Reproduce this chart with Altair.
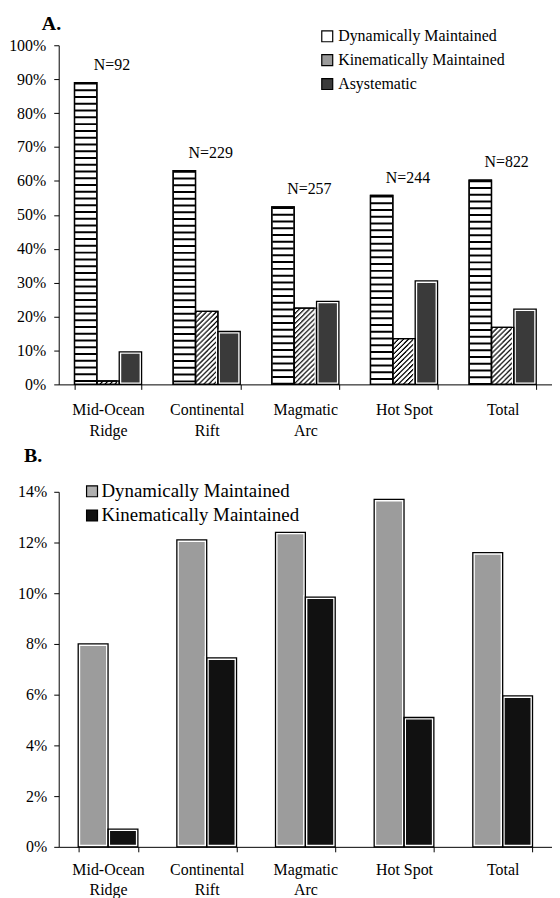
import altair as alt
import pandas as pd

FONT = "Liberation Serif"

categories = ["Mid-Ocean Ridge", "Continental Rift", "Magmatic Arc", "Hot Spot", "Total"]

series_a = ["Dynamically Maintained", "Kinematically Maintained", "Asystematic"]
a_dynamic = [89.0, 63.0, 52.3, 55.7, 60.2]
a_kinematic = [1.0, 21.5, 22.5, 13.5, 16.8]
a_asystematic = [9.6, 15.6, 24.5, 30.5, 22.2]
a_counts = ["N=92", "N=229", "N=257", "N=244", "N=822"]
a_ticks = [0, 10, 20, 30, 40, 50, 60, 70, 80, 90, 100]

series_b = ["Dynamically Maintained", "Kinematically Maintained"]
b_dynamic = [8.0, 12.1, 12.4, 13.7, 11.6]
b_kinematic = [0.7, 7.45, 9.85, 5.1, 5.95]
b_ticks = [0, 2, 4, 6, 8, 10, 12, 14]

panel_labels = ["A.", "B."]

df_a = pd.DataFrame(
    [{"category": c, "series": s, "value": v}
     for s, vals in zip(series_a, [a_dynamic, a_kinematic, a_asystematic])
     for c, v in zip(categories, vals)]
)
df_n = pd.DataFrame({"category": categories, "label": a_counts, "top": a_dynamic})
df_b = pd.DataFrame(
    [{"category": c, "series": s, "value": v}
     for s, vals in zip(series_b, [b_dynamic, b_kinematic])
     for c, v in zip(categories, vals)]
)

LABEL_EXPR = ("!isValid(datum.value) ? '' : "
              "((datum.value == 'Hot Spot' || datum.value == 'Total') ? datum.value : split(datum.value, ' '))")


def x_enc(pad, bp=None, label_pad=12, line_h=21):
    kw = {}
    if bp is not None:
        kw["bandPosition"] = bp
    return alt.X(
        "category:N", sort=categories, title=None,
        scale=alt.Scale(domain=categories, paddingInner=pad, paddingOuter=pad / 2),
        axis=alt.Axis(labelExpr=LABEL_EXPR, labelAngle=0, tickBand="extent", tickSize=5,
                      labelPadding=label_pad, labelFontSize=16, labelLineHeight=line_h,
                      labelFont=FONT, labelColor="black", domainColor="black",
                      tickColor="black", grid=False, zindex=1),
        **kw,
    )


def y_enc(field, domain, ticks, fs, lpad, ext):
    return alt.Y(
        f"{field}:Q", title=None,
        scale=alt.Scale(domain=domain, nice=False, zero=True),
        axis=alt.Axis(values=ticks, labelExpr="datum.value + '%'", tickSize=5,
                      labelPadding=lpad, labelFontSize=fs, labelFont=FONT,
                      labelColor="black", domainColor="black", tickColor="black",
                      grid=False, minExtent=ext, maxExtent=ext, zindex=1),
    )


# ---------------- Panel A ----------------
PA = 0.32
ya = lambda f="value": y_enc(f, [0, 100], a_ticks, 16, 8, 51)
xa = lambda bp=None: x_enc(PA, bp=bp, label_pad=12, line_h=21)
xoa = alt.XOffset("series:N", sort=series_a, scale=alt.Scale(domain=series_a, paddingInner=0, paddingOuter=0))

base_a = alt.Chart(df_a)

legend_a = base_a.mark_bar(opacity=0, stroke="black").encode(
    x=xa(), xOffset=xoa, y=ya(),
    color=alt.Color("series:N", sort=series_a,
                    scale=alt.Scale(domain=series_a, range=["white", "#9a9a9a", "#3a3a3a"]),
                    legend=alt.Legend(title=None, orient="none", legendX=262, legendY=-17,
                                      direction="vertical", symbolType="square", symbolSize=121,
                                      symbolStrokeColor="black", symbolStrokeWidth=1.2,
                                      symbolOpacity=1, labelFont=FONT, labelFontSize=16,
                                      labelColor="black", rowPadding=8, labelOffset=3,
                                      labelLimit=400, padding=0)),
)

bars_a = base_a.mark_bar(fill="white", stroke="black", strokeWidth=1.3).encode(
    x=xa(), xOffset=xoa, y=ya(), y2=alt.datum(0)
)

stripes_a = base_a.transform_filter(alt.datum.series == series_a[0]).mark_rule(
    strokeWidth=21.5, strokeDash=[2, 4.8], strokeCap="butt", color="black"
).encode(x=xa(1 / 6), y=ya(), y2=alt.datum(0))

hatch_layers = []
NCOL = 22
for j in range(NCOL):
    hatch_layers.append(
        base_a.transform_filter(alt.datum.series == series_a[1]).mark_rule(
            strokeWidth=1.2, strokeDash=[1.6, 3.4], strokeDashOffset=j * 1.02,
            strokeCap="butt", color="black"
        ).encode(x=xa((1 + (j + 0.5) / NCOL) / 3), y=ya(), y2=alt.datum(0))
    )

dark_a = base_a.transform_filter(alt.datum.series == series_a[2]).mark_bar(
    fill="#3a3a3a", stroke="white", strokeWidth=4
).encode(x=xa(), xOffset=xoa, y=ya(), y2=alt.datum(0))

outline_a = base_a.mark_bar(fillOpacity=0, stroke="black", strokeWidth=1.3).encode(
    x=xa(), xOffset=xoa, y=ya(), y2=alt.datum(0)
)

ntext = alt.Chart(df_n).mark_text(font=FONT, fontSize=16, dy=-18, dx=4, color="black").encode(
    x=xa(), y=ya("top"), text="label:N"
)

tag_a = alt.Chart(pd.DataFrame({"t": [panel_labels[0]]})).mark_text(
    font=FONT, fontSize=20, fontWeight="bold", align="left", baseline="alphabetic", color="black"
).encode(text="t:N", x=alt.value(-17), y=alt.value(-15))

panel_a = alt.layer(
    legend_a, bars_a, stripes_a, *hatch_layers, dark_a, outline_a, ntext, tag_a
).properties(width=496, height=341)

# ---------------- Panel B ----------------
PB = 0.395
yb = lambda f="value": y_enc(f, [0, 14], b_ticks, 16, 7, 47)
xb = lambda bp=None: x_enc(PB, bp=bp, label_pad=10, line_h=19.5)
xob = alt.XOffset("series:N", sort=series_b, scale=alt.Scale(domain=series_b, paddingInner=0, paddingOuter=0))

base_b = alt.Chart(df_b)

legend_b = base_b.mark_bar(opacity=0, stroke="black").encode(
    x=xb(), xOffset=xob, y=yb(),
    color=alt.Color("series:N", sort=series_b,
                    scale=alt.Scale(domain=series_b, range=["#b0b0b0", "#111111"]),
                    legend=alt.Legend(title=None, orient="none", legendX=24, legendY=-10,
                                      direction="vertical", symbolType="square", symbolSize=121,
                                      symbolStrokeColor="black", symbolStrokeWidth=1.2,
                                      symbolOpacity=1, labelFont=FONT, labelFontSize=19,
                                      labelColor="black", rowPadding=4.3, labelOffset=0,
                                      labelLimit=400, padding=0)),
)

bars_b = base_b.mark_bar(stroke="white", strokeWidth=4).encode(
    x=xb(), xOffset=xob, y=yb(), y2=alt.datum(0),
    fill=alt.when(alt.datum.series == series_b[1]).then(alt.value("#111111")).otherwise(alt.value("#9c9c9c")),
)

outline_b = base_b.mark_bar(fillOpacity=0, stroke="black", strokeWidth=1.3).encode(
    x=xb(), xOffset=xob, y=yb(), y2=alt.datum(0)
)

tag_b = alt.Chart(pd.DataFrame({"t": [panel_labels[1]]})).mark_text(
    font=FONT, fontSize=20, fontWeight="bold", align="left", baseline="alphabetic", color="black"
).encode(text="t:N", x=alt.value(-35), y=alt.value(-30))

panel_b = alt.layer(legend_b, bars_b, outline_b, tag_b).properties(width=496, height=357)

chart = alt.vconcat(panel_a, panel_b, spacing=8).resolve_scale(
    color="independent", xOffset="independent"
).resolve_legend(color="independent").properties(
    padding={"left": 0, "top": 4, "right": 0, "bottom": 0}
).configure_view(stroke=None).configure_axis(domainWidth=1, tickWidth=1)

chart.save("out.html", embed_options={"renderer": "svg", "actions": False})
